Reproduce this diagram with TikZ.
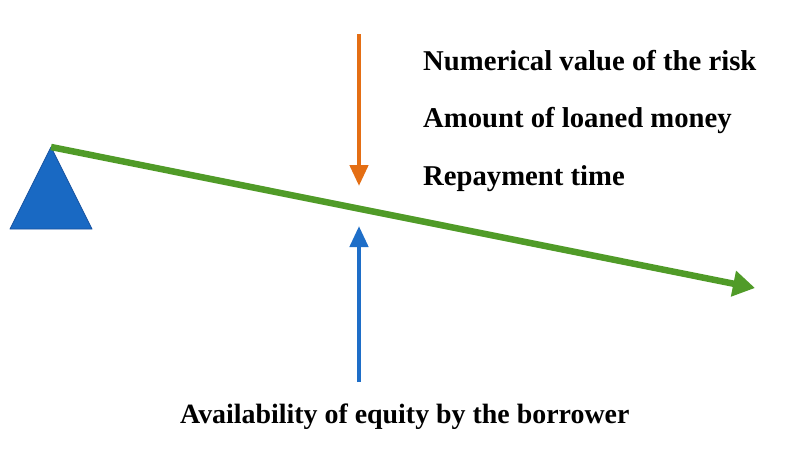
\documentclass[tikz,border=0pt]{standalone}
\usepackage{fontspec}
\setmainfont{Liberation Serif}
\usetikzlibrary{arrows.meta}
\definecolor{beamgreen}{RGB}{80,155,40}
\definecolor{arrorange}{RGB}{228,110,20}
\definecolor{arrblue}{RGB}{30,110,200}
\definecolor{triblue}{RGB}{25,105,195}
\definecolor{triedge}{RGB}{20,80,160}
\tikzset{
  lbl/.style={anchor=base west, inner sep=0pt, font=\fontsize{28.7}{32}\selectfont\bfseries},
  lblb/.style={anchor=base west, inner sep=0pt, font=\fontsize{27.9}{32}\selectfont\bfseries},
  force/.style={line width=4.5pt, -{Triangle[length=21pt,width=18pt]}},
}
\begin{document}
\begin{tikzpicture}[x=1pt,y=-1pt]
\useasboundingbox (0,0) rectangle (807,466);
\fill[white] (0,0) rectangle (807,466);
% fulcrum
\coordinate (apex) at (51,147);
\coordinate (bl) at (10,229);
\coordinate (br) at (92,229);
\filldraw[fill=triblue, draw=triedge, line width=0.8pt, line join=round] (apex) -- (bl) -- (br) -- cycle;
% beam
\coordinate (beamend) at (755,288);
\draw[beamgreen, line width=6.5pt, -{Triangle[length=22pt,width=25pt]}] (apex) -- (beamend);
% forces
\coordinate (otop) at (359,34);
\coordinate (otip) at (359,186);
\draw[force, arrorange] (otop) -- (otip);
\coordinate (bbot) at (359,382);
\coordinate (btip) at (359,226);
\draw[force, arrblue] (bbot) -- (btip);
% labels
\node[lbl] (l1) at (423,70) {Numerical value of the risk};
\node[lbl] (l2) at (423,127) {Amount of loaned money};
\node[lbl] (l3) at (423,185) {Repayment time};
\node[lblb] (l4) at (180,423) {Availability of equity by the borrower};
\end{tikzpicture}
\end{document}
